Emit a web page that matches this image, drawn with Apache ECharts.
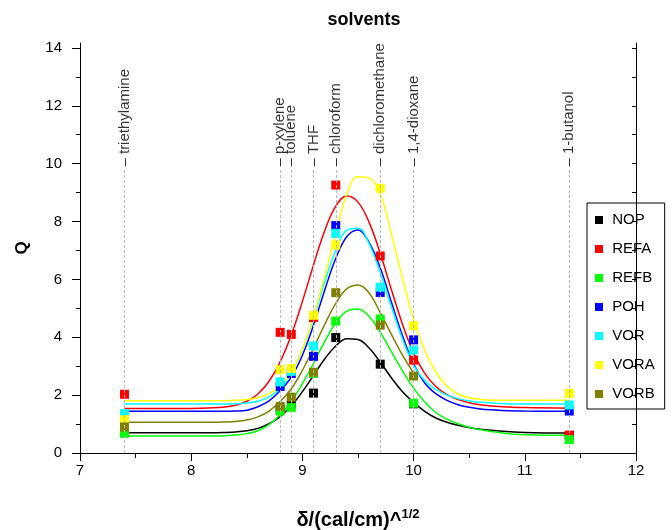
<!DOCTYPE html>
<html>
<head>
<meta charset="utf-8">
<script src="https://cdn.jsdelivr.net/npm/echarts@6/dist/echarts.min.js"></script>
<style>
  html, body { margin: 0; padding: 0; background: #ffffff; }
  #chart { width: 672px; height: 530px; }
</style>
</head>
<body>
<div id="chart"></div>
<script>
// Solubility parameter of each solvent, δ in (cal/cm)^1/2
const solventNames = ['triethylamine', 'p-xylene', 'toluene', 'THF', 'chloroform', 'dichloromethane', '1,4-dioxane', '1-butanol'];
const solventDelta = [7.4, 8.8, 8.9, 9.1, 9.3, 9.7, 10.0, 11.4];

// Measured Q for each sample in each solvent (same order as solventNames)
const seriesNames = ['NOP', 'REFA', 'REFB', 'POH', 'VOR', 'VORA', 'VORB'];
const seriesColors = ['#000000', '#ff0000', '#00ff00', '#0000ff', '#00ffff', '#ffff00', '#808000'];
const qNOP  = [0.85, 1.50, 1.70, 2.07, 3.99, 3.07, 1.70, 0.60];
const qREFA = [2.03, 4.17, 4.10, 4.68, 9.26, 6.81, 3.21, 0.62];
const qREFB = [0.68, 1.45, 1.57, 2.75, 4.56, 4.63, 1.72, 0.46];
const qPOH  = [1.30, 2.30, 2.75, 3.34, 7.86, 5.55, 3.91, 1.45];
const qVOR  = [1.36, 2.46, 2.82, 3.70, 7.59, 5.73, 3.56, 1.66];
const qVORA = [1.15, 2.88, 2.92, 4.76, 7.19, 9.15, 4.40, 2.06];
const qVORB = [0.90, 1.61, 1.93, 2.79, 5.54, 4.42, 2.66, null];

// Fitted peak curves, sampled on a common δ grid over each sample's measured range
const fitX    = [7.4, 8, 8.2, 8.3, 8.4, 8.5, 8.6, 8.7, 8.8, 8.9, 9.0, 9.1, 9.2, 9.3, 9.4, 9.5, 9.6, 9.7, 9.8, 9.9, 10.0, 10.1, 10.2, 10.3, 10.4, 10.5, 10.6, 10.8, 11, 11.4];
const fitNOP  = [0.70, 0.70, 0.70, 0.71, 0.73, 0.77, 0.85, 1.01, 1.26, 1.63, 2.12, 2.68, 3.25, 3.70, 3.95, 3.92, 3.63, 3.14, 2.60, 2.12, 1.75, 1.44, 1.21, 1.06, 0.96, 0.88, 0.82, 0.75, 0.71, 0.69];
const fitREFA = [1.54, 1.54, 1.56, 1.59, 1.65, 1.79, 2.04, 2.48, 3.15, 4.08, 5.24, 6.50, 7.67, 8.53, 8.88, 8.67, 7.97, 6.90, 5.65, 4.45, 3.45, 2.75, 2.30, 2.02, 1.85, 1.74, 1.67, 1.60, 1.57, 1.55];
const fitREFB = [0.59, 0.59, 0.59, 0.60, 0.62, 0.67, 0.77, 0.98, 1.32, 1.78, 2.40, 3.10, 3.85, 4.50, 4.90, 4.98, 4.72, 4.18, 3.50, 2.84, 2.24, 1.76, 1.40, 1.17, 1.01, 0.89, 0.80, 0.69, 0.63, 0.61];
const fitPOH  = [1.44, 1.44, 1.44, 1.44, 1.45, 1.48, 1.60, 1.80, 2.15, 2.62, 3.38, 4.42, 5.62, 6.72, 7.48, 7.71, 7.27, 6.40, 5.22, 4.06, 3.08, 2.42, 2.05, 1.82, 1.67, 1.58, 1.52, 1.47, 1.45, 1.44];
const fitVOR  = [1.69, 1.69, 1.69, 1.69, 1.70, 1.73, 1.79, 1.94, 2.23, 2.76, 3.58, 4.67, 5.90, 7.01, 7.70, 7.77, 7.23, 6.23, 5.05, 3.93, 3.03, 2.50, 2.20, 2.00, 1.88, 1.80, 1.75, 1.71, 1.69, 1.69];
const fitVORA = [1.81, 1.81, 1.81, 1.81, 1.82, 1.85, 1.91, 2.05, 2.31, 2.78, 3.59, 4.71, 6.10, 7.56, 8.95, 9.55, 9.50, 8.95, 7.56, 6.05, 4.62, 3.55, 2.80, 2.31, 2.04, 1.91, 1.85, 1.82, 1.82, 1.82];
const fitVORB = [1.06, 1.06, 1.06, 1.07, 1.09, 1.14, 1.25, 1.45, 1.78, 2.22, 2.86, 3.62, 4.44, 5.17, 5.68, 5.81, 5.53, 4.85, 4.10, 3.38, 2.76, null, null, null, null, null, null, null, null, null];

// Axis ticks
const xTicks = [7, 8, 9, 10, 11, 12];
const yMajorTicks = [0, 2, 4, 6, 8, 10, 12, 14];
const yMinorTicks = [1, 3, 5, 7, 9, 11, 13];
const yAllTicks = [0, 1, 2, 3, 4, 5, 6, 7, 8, 9, 10, 11, 12, 13, 14];

const points = [qNOP, qREFA, qREFB, qPOH, qVOR, qVORA, qVORB];
const fits = [fitNOP, fitREFA, fitREFB, fitPOH, fitVOR, fitVORA, fitVORB];

const FONT = '"Liberation Sans", Arial, sans-serif';
const Y_MAX = 14.17;
const LABEL_BASE = 9.9;   // δ-marker captions start just above this Q
const GUIDE_TOP = 9.8;

const chart = echarts.init(document.getElementById('chart'), null, { renderer: 'canvas' });

const series = [];
seriesNames.forEach((name, i) => {
  series.push({
    type: 'line',
    name: name + ' fit',
    data: fitX.map((x, k) => [x, fits[i][k]]),
    smooth: 0.4,
    symbol: 'none',
    showSymbol: false,
    connectNulls: false,
    lineStyle: { color: seriesColors[i], width: 1.5 },
    silent: true,
    z: 2
  });
  series.push({
    type: 'scatter',
    name: name,
    data: solventDelta.map((x, k) => [x, points[i][k]]).filter(d => d[1] !== null),
    symbol: 'rect',
    symbolSize: 9,
    itemStyle: { color: seriesColors[i], opacity: 1 },
    silent: true,
    z: 2
  });
});

// Solvent captions and dotted guide lines
series.push({
  type: 'scatter',
  name: 'solvent markers',
  data: solventDelta.map((x, i) => ({ value: [x, LABEL_BASE], name: solventNames[i] })),
  symbol: 'rect',
  symbolSize: 1,
  itemStyle: { color: 'rgba(0,0,0,0)' },
  label: {
    show: true,
    position: 'inside',
    rotate: 90,
    align: 'left',
    verticalAlign: 'middle',
    formatter: p => '\u2013 ' + p.name,
    fontSize: 15,
    fontFamily: FONT,
    color: '#000'
  },
  markLine: {
    silent: true,
    symbol: 'none',
    label: { show: false },
    lineStyle: { color: '#b8b8b8', width: 1, type: [3, 2] },
    data: solventDelta.map(x => [{ coord: [x, 0] }, { coord: [x, GUIDE_TOP] }])
  },
  silent: true,
  z: 5
});

const axisLine = { show: true, lineStyle: { color: '#000', width: 1 } };

const option = {
  animation: false,
  backgroundColor: '#ffffff',
  title: {
    text: 'solvents',
    left: 359,
    top: 6,
    textAlign: 'center',
    textStyle: { fontFamily: FONT, fontSize: 18, fontWeight: 'bold', color: '#000' }
  },
  grid: { left: 80, right: 36, top: 43, bottom: 77, containLabel: false, outerBoundsMode: 'none' },
  legend: {
    orient: 'vertical',
    left: 587,
    top: 203,
    padding: [8, 10, 6, 8],
    itemGap: 11,
    itemWidth: 8,
    itemHeight: 8,
    icon: 'rect',
    borderColor: '#000',
    borderWidth: 1,
    formatter: ' {name}',
    textStyle: { fontFamily: FONT, fontSize: 15, color: '#000', lineHeight: 18 },
    data: seriesNames
  },
  xAxis: [
    {
      type: 'value', min: 7, max: 12, interval: 1, position: 'bottom',
      axisLine: axisLine,
      axisTick: { show: true, length: 8, lineStyle: { color: '#000' } },
      minorTick: { show: true, splitNumber: 2, length: 5, lineStyle: { color: '#000' } },
      splitLine: { show: false },
      axisLabel: { fontFamily: FONT, fontSize: 15, color: '#000', margin: 10, customValues: xTicks },
      name: '{m|\u03b4/(cal/cm)^}{s|1/2}',
      nameLocation: 'middle',
      nameGap: 55,
      nameTextStyle: {
        rich: {
          m: { fontFamily: FONT, fontSize: 20, fontWeight: 'bold', color: '#000', lineHeight: 24 },
          s: { fontFamily: FONT, fontSize: 13, fontWeight: 'bold', color: '#000', verticalAlign: 'top', lineHeight: 24 }
        }
      }
    },
    {
      type: 'value', min: 7, max: 12, interval: 0.5, position: 'top',
      axisLine: axisLine,
      axisTick: { show: true, inside: true, length: 4, lineStyle: { color: '#000' } },
      axisLabel: { show: false },
      splitLine: { show: false }
    }
  ],
  yAxis: [
    {
      type: 'value', min: 0, max: Y_MAX, position: 'left',
      axisLine: axisLine,
      axisTick: { show: true, length: 8, customValues: yMajorTicks, lineStyle: { color: '#000' } },
      axisLabel: { fontFamily: FONT, fontSize: 15, color: '#000', margin: 18, customValues: yMajorTicks },
      splitLine: { show: false },
      name: 'Q',
      nameLocation: 'middle',
      nameGap: 49,
      nameTextStyle: { fontFamily: FONT, fontSize: 17, fontWeight: 'bold', color: '#000' }
    },
    {
      type: 'value', min: 0, max: Y_MAX, position: 'left',
      axisLine: { show: false },
      axisTick: { show: true, length: 4, customValues: yMinorTicks, lineStyle: { color: '#000' } },
      axisLabel: { show: false },
      splitLine: { show: false }
    },
    {
      type: 'value', min: 0, max: Y_MAX, position: 'right',
      axisLine: axisLine,
      axisTick: { show: true, inside: true, length: 4, customValues: yAllTicks, lineStyle: { color: '#000' } },
      axisLabel: { show: false },
      splitLine: { show: false }
    }
  ],
  series: series
};

chart.setOption(option);
</script>
</body>
</html>
